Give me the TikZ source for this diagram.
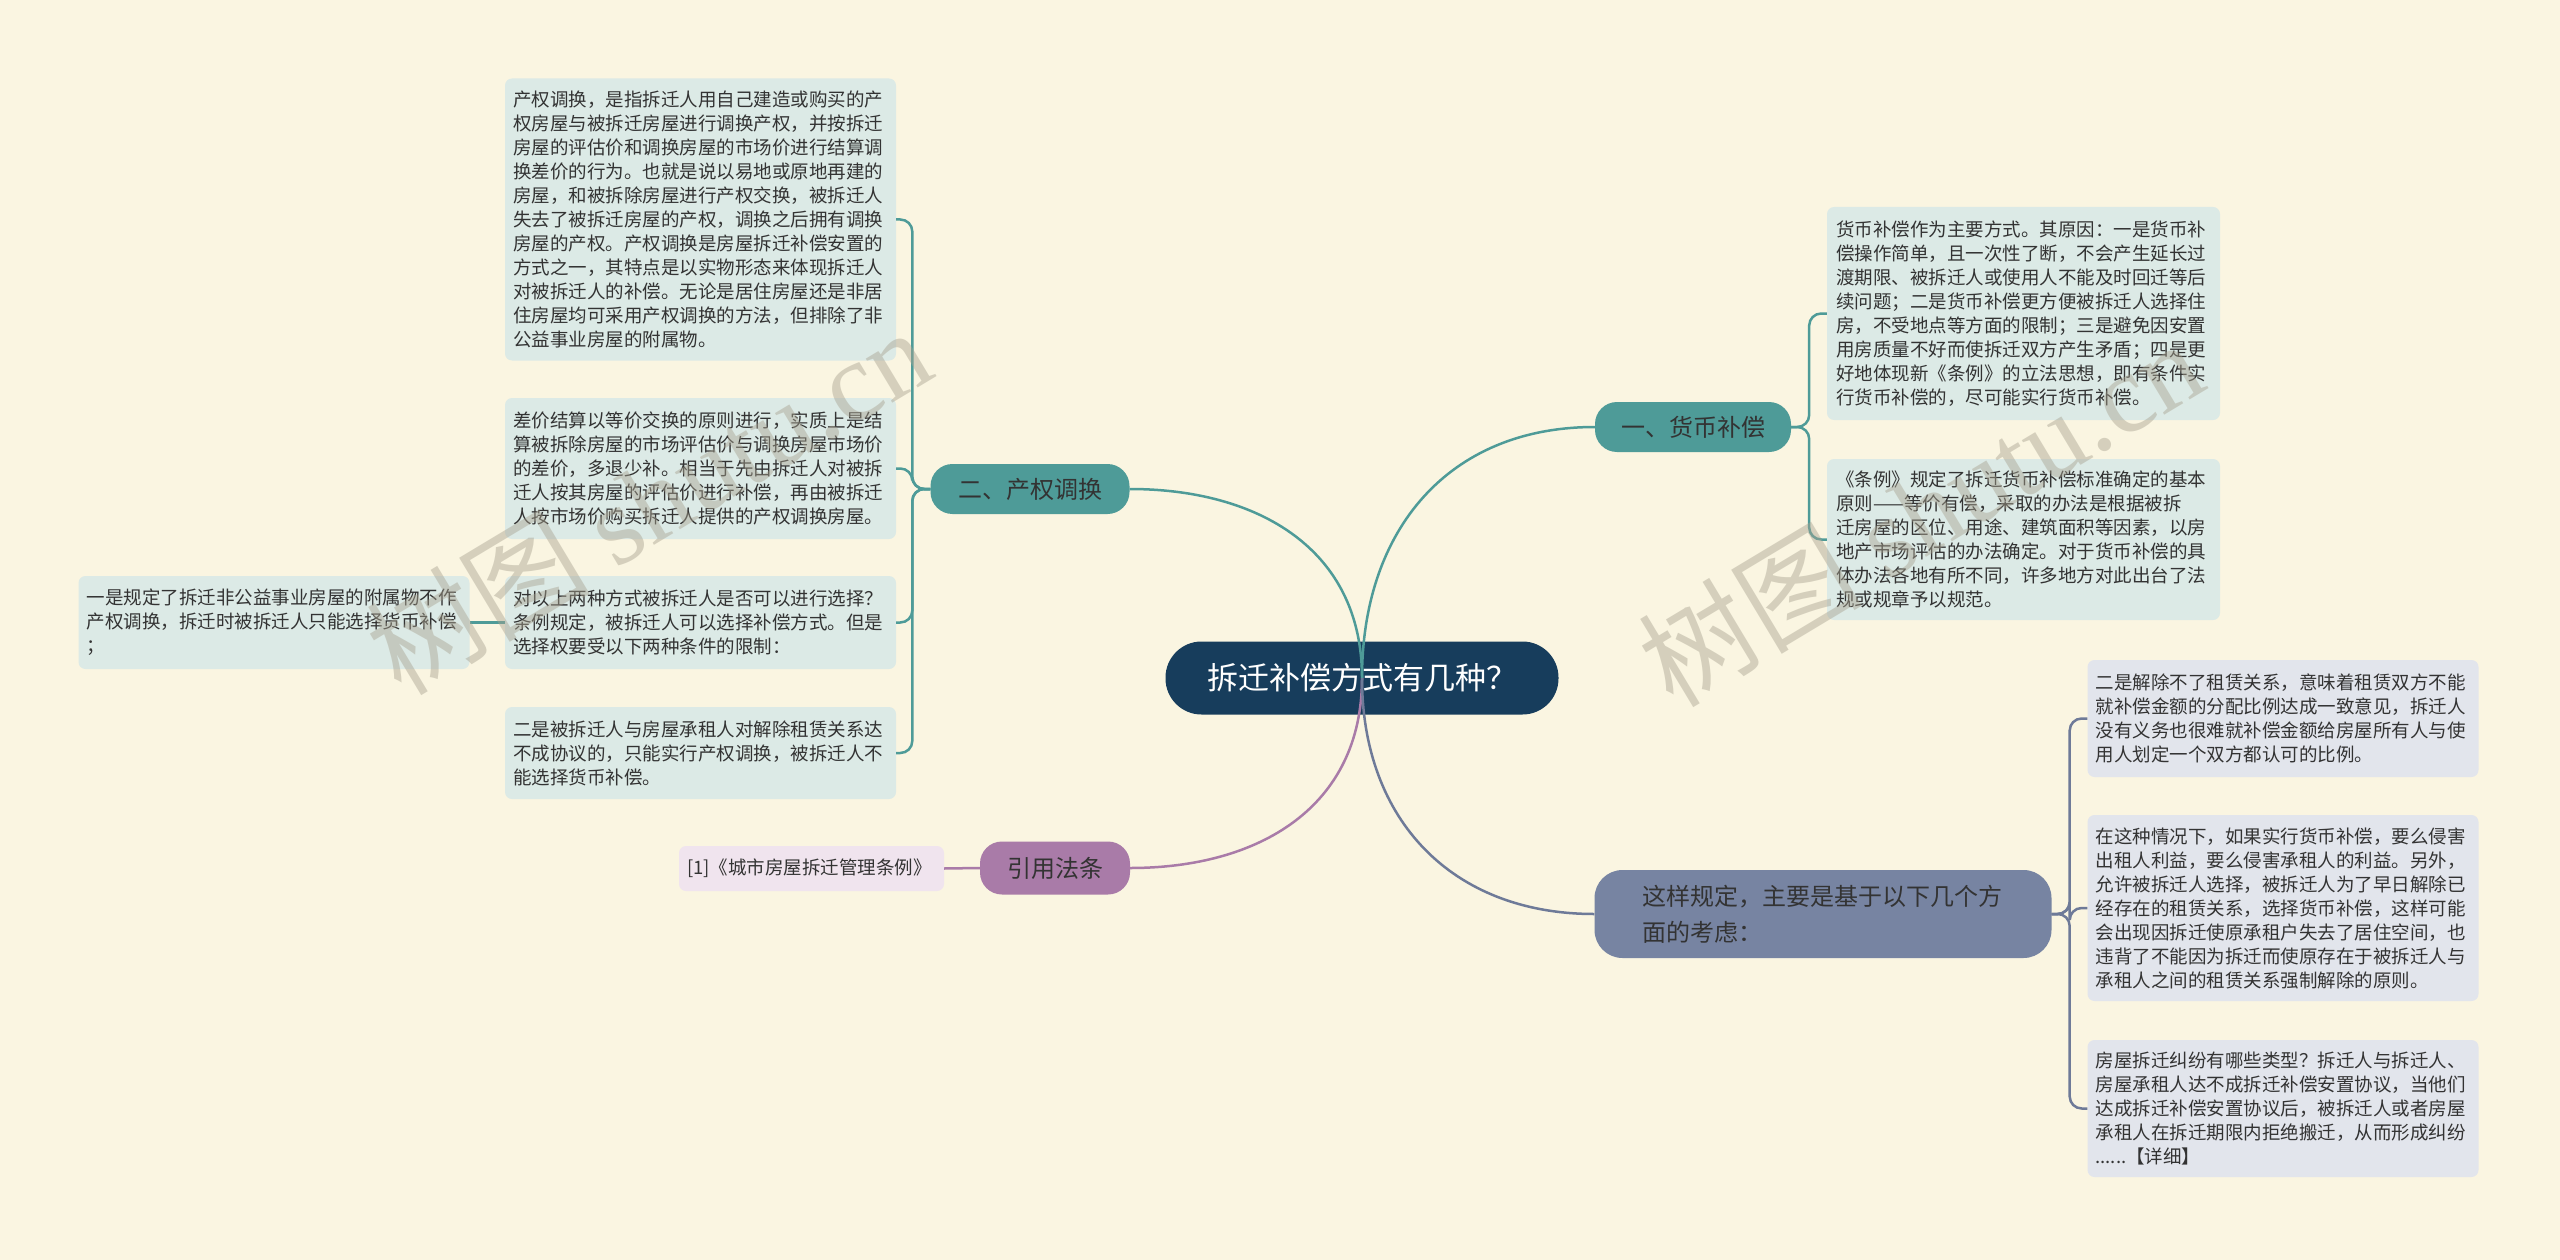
\documentclass[tikz,border=0pt]{standalone}
\usepackage{fontspec}
\setmainfont{Noto Sans CJK SC}
\newfontfamily\wmfont{Liberation Serif}
\usetikzlibrary{positioning}
\definecolor{bgcream}{HTML}{FAF5E1}
\definecolor{rootblue}{HTML}{173D5C}
\definecolor{tealmain}{HTML}{4E9B98}
\definecolor{tealbox}{HTML}{DCEAE6}
\definecolor{plum}{HTML}{A97BA8}
\definecolor{plumbox}{HTML}{F0E4EE}
\definecolor{slate}{HTML}{7784A2}
\definecolor{slatebox}{HTML}{E2E5EC}
\definecolor{slateline}{HTML}{6E7A98}
\definecolor{txtgray}{HTML}{333333}
\definecolor{wmgray}{HTML}{A8A290}

\begin{document}
\begin{tikzpicture}[x=1pt,y=-1pt,
  rootnode/.style={fill=rootblue, text=white, rounded corners=36pt, minimum width=393pt, minimum height=73pt, font=\fontsize{31}{37}\selectfont},
  branch/.style={rounded corners=22pt, minimum height=50pt, text=txtgray, font=\fontsize{24}{36}\selectfont},
  txtbox/.style={rounded corners=7pt, text width=375pt, inner xsep=8pt, inner ysep=0pt, align=left, text=txtgray, font=\fontsize{18.5}{24}\selectfont},
  link/.style={line width=2.5pt},
  wm/.style={text=wmgray, opacity=0.45, font=\fontsize{112}{120}\selectfont}]
%background
\fill[bgcream] (0,0) rectangle (2560,1260);
\useasboundingbox (0,0) rectangle (2560,1260);

%root
\node[rootnode] (root) at (1362,678) {拆迁补偿方式有几种？};

%branches
\node[branch, fill=tealmain, minimum width=196pt] (money) at (1693,427) {一、货币补偿};
\node[branch, fill=tealmain, minimum width=199pt] (swap) at (1030,489) {二、产权调换};
\node[branch, fill=plum, minimum width=150pt, minimum height=53pt] (law) at (1055,868) {引用法条};
\node[branch, fill=slate, rounded corners=28pt, minimum width=457pt, minimum height=88pt, text width=362pt, align=left] (reason) at (1823,914) {这样规定，主要是基于以下几个方\\面的考虑：};

%left boxes
\node[txtbox, fill=tealbox, minimum height=282pt] (swapA) at (700.5,219.5) {产权调换，是指拆迁人用自己建造或购买的产\\权房屋与被拆迁房屋进行调换产权，并按拆迁\\房屋的评估价和调换房屋的市场价进行结算调\\换差价的行为。也就是说以易地或原地再建的\\房屋，和被拆除房屋进行产权交换，被拆迁人\\失去了被拆迁房屋的产权，调换之后拥有调换\\房屋的产权。产权调换是房屋拆迁补偿安置的\\方式之一，其特点是以实物形态来体现拆迁人\\对被拆迁人的补偿。无论是居住房屋还是非居\\住房屋均可采用产权调换的方法，但排除了非\\公益事业房屋的附属物。};
\node[txtbox, fill=tealbox, minimum height=141pt] (swapB) at (700.5,468.5) {差价结算以等价交换的原则进行，实质上是结\\算被拆除房屋的市场评估价与调换房屋市场价\\的差价，多退少补。相当于先由拆迁人对被拆\\迁人按其房屋的评估价进行补偿，再由被拆迁\\人按市场价购买拆迁人提供的产权调换房屋。};
\node[txtbox, fill=tealbox, minimum height=93pt] (swapC) at (700.5,622.5) {对以上两种方式被拆迁人是否可以进行选择？\\条例规定，被拆迁人可以选择补偿方式。但是\\选择权要受以下两种条件的限制：};
\node[txtbox, fill=tealbox, minimum height=92pt] (swapD) at (700.5,753) {二是被拆迁人与房屋承租人对解除租赁关系达\\不成协议的，只能实行产权调换，被拆迁人不\\能选择货币补偿。};
\node[txtbox, fill=tealbox, minimum height=93pt] (swapC1) at (274,622.5) {一是规定了拆迁非公益事业房屋的附属物不作\\产权调换，拆迁时被拆迁人只能选择货币补偿\\；};
\node[txtbox, fill=plumbox, text width=249pt, minimum height=45pt] (lawA) at (811.5,868.5) {[1]《城市房屋拆迁管理条例》};

%right boxes
\node[txtbox, fill=tealbox, minimum width=393pt, minimum height=213pt] (moneyA) at (2023.5,313.5) {货币补偿作为主要方式。其原因：一是货币补\\偿操作简单，且一次性了断，不会产生延长过\\渡期限、被拆迁人或使用人不能及时回迁等后\\续问题；二是货币补偿更方便被拆迁人选择住\\房，不受地点等方面的限制；三是避免因安置\\用房质量不好而使拆迁双方产生矛盾；四是更\\好地体现新《条例》的立法思想，即有条件实\\行货币补偿的，尽可能实行货币补偿。};
\node[txtbox, fill=tealbox, minimum width=393pt, minimum height=161pt] (moneyB) at (2023.5,539.5) {《条例》规定了拆迁货币补偿标准确定的基本\\原则——等价有偿，采取的办法是根据被拆\\迁房屋的区位、用途、建筑面积等因素，以房\\地产市场评估的办法确定。对于货币补偿的具\\体办法各地有所不同，许多地方对此出台了法\\规或规章予以规范。};
\node[txtbox, fill=slatebox, minimum height=117pt] (reasonA) at (2283,718.5) {二是解除不了租赁关系，意味着租赁双方不能\\就补偿金额的分配比例达成一致意见，拆迁人\\没有义务也很难就补偿金额给房屋所有人与使\\用人划定一个双方都认可的比例。};
\node[txtbox, fill=slatebox, minimum height=186pt] (reasonB) at (2283,908) {在这种情况下，如果实行货币补偿，要么侵害\\出租人利益，要么侵害承租人的利益。另外，\\允许被拆迁人选择，被拆迁人为了早日解除已\\经存在的租赁关系，选择货币补偿，这样可能\\会出现因拆迁使原承租户失去了居住空间，也\\违背了不能因为拆迁而使原存在于被拆迁人与\\承租人之间的租赁关系强制解除的原则。};
\node[txtbox, fill=slatebox, minimum height=137pt] (reasonC) at (2283,1108.5) {房屋拆迁纠纷有哪些类型？拆迁人与拆迁人、\\房屋承租人达不成拆迁补偿安置协议，当他们\\达成拆迁补偿安置协议后，被拆迁人或者房屋\\承租人在拆迁期限内拒绝搬迁，从而形成纠纷\\......【详细】};

%root to branches
\draw[link, tealmain] (root.center) to[out=90, in=180, looseness=1.1] (money.west);
\draw[link, tealmain] (root.center) to[out=90, in=0, looseness=1.1] (swap.east);
\draw[link, plum] (root.center) to[out=-90, in=0, looseness=1.1] (law.east);
\draw[link, slateline] (root.center) to[out=-90, in=180, looseness=1.1] (reason.west);

%branches to boxes
\foreach \b in {swapA,swapB,swapC,swapD}
  \draw[link, tealmain, rounded corners=12pt] (swap.west) -- ++(-18,0) |- (\b.east);
\draw[link, tealmain] (swapC.west) -- (swapC1.east);
\draw[link, plum] (law.west) -- (lawA.east);
\foreach \b in {moneyA,moneyB}
  \draw[link, tealmain, rounded corners=12pt] (money.east) -- ++(18,0) |- (\b.west);
\foreach \b in {reasonA,reasonB,reasonC}
  \draw[link, slateline, rounded corners=12pt] (reason.east) -- ++(18,0) |- (\b.west);

%watermark
\node[wm, rotate=31] (wmL) at (648,500) {树图 {\wmfont shutu.cn}};
\node[wm, rotate=31] (wmR) at (1920,512) {树图 {\wmfont shutu.cn}};
\end{tikzpicture}
\end{document}
